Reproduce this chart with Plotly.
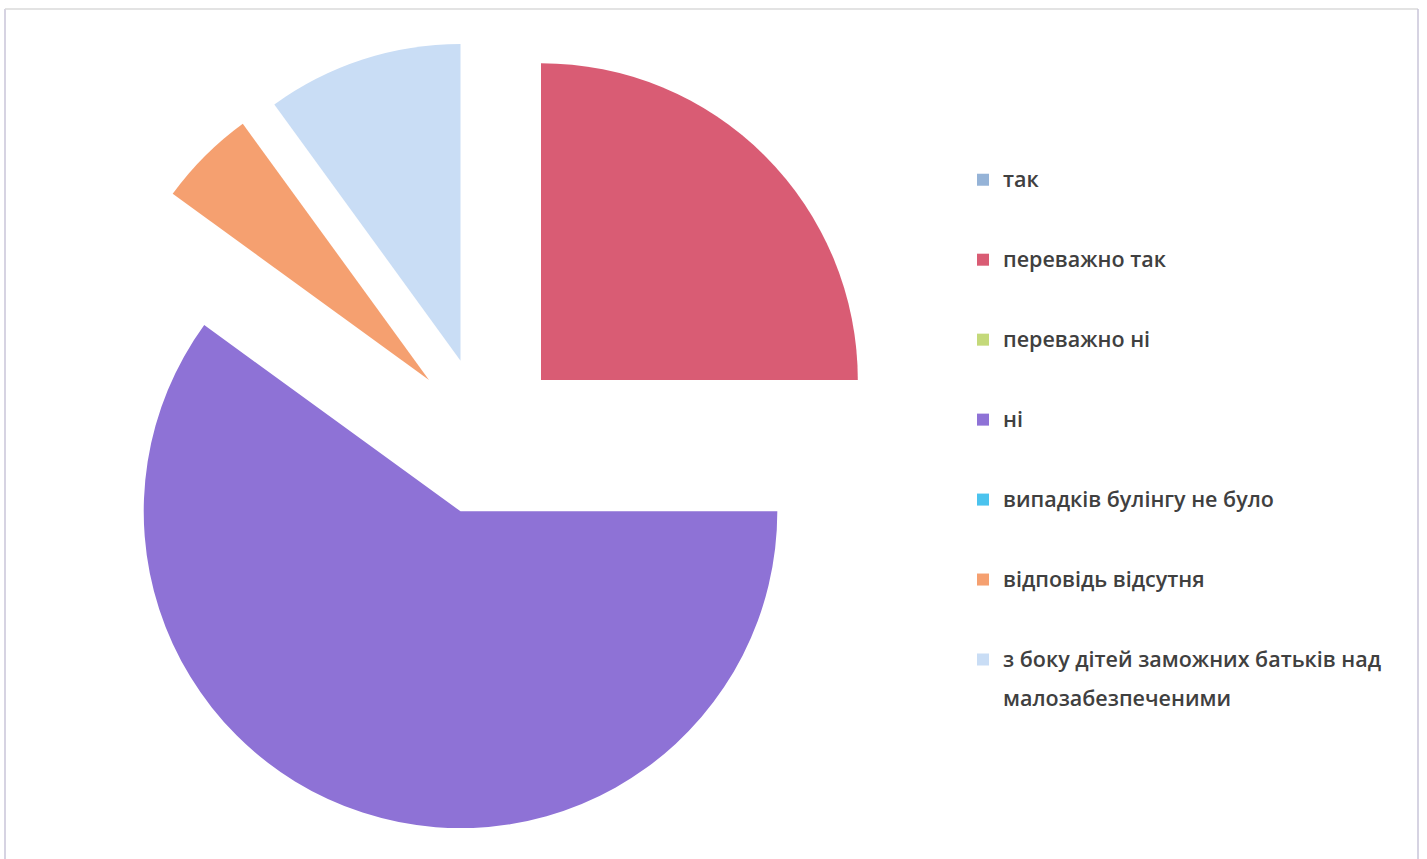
import plotly.graph_objects as go

categories = [
    "так",
    "переважно так",
    "переважно ні",
    "ні",
    "випадків булінгу не було",
    "відповідь відсутня",
    "з боку дітей заможних батьків над<br>малозабезпеченими",
]
values = [0, 25, 0, 60, 0, 5, 10]
colors = ["#95B3D7", "#D95C74", "#C4D97A", "#8E72D6", "#4BC3EE", "#F5A070", "#C9DDF5"]

SPAN = "<span style='font-size:21.5px;baseline-shift:4px'>{}</span>"
legend_labels = []
for c in categories:
    parts = [SPAN.format(p) for p in c.split("<br>")]
    if len(parts) > 1:
        legend_labels.append("<br>".join(parts))
    else:
        legend_labels.append(parts[0] + "<br> ")

W, H = 1427, 859
fig = go.Figure(
    go.Pie(
        labels=legend_labels,
        values=values,
        sort=False,
        direction="clockwise",
        rotation=0,
        pull=[0.25] * len(values),
        marker=dict(colors=colors, line=dict(width=0)),
        textinfo="none",
        hoverinfo="label+percent",
        domain=dict(x=[89 / W, 881 / W], y=[(H - 832) / H, (H - 40) / H]),
    )
)

fig.update_layout(
    width=W,
    height=H,
    margin=dict(l=0, r=0, t=0, b=0),
    paper_bgcolor="white",
    plot_bgcolor="white",
    showlegend=True,
    legend=dict(
        x=963 / W,
        xanchor="left",
        y=1 - 154 / H,
        yanchor="top",
        valign="top",
        font=dict(family="Open Sans", size=29.6, color="#404040", weight=600),
        bgcolor="rgba(0,0,0,0)",
        traceorder="normal",
    ),
    shapes=[
        dict(type="line", xref="paper", yref="paper", x0=5 / W, x1=5 / W, y0=0, y1=(H - 9) / H,
             line=dict(color="#C8C4D8", width=1.5)),
        dict(type="line", xref="paper", yref="paper", x0=5 / W, x1=1418 / W, y0=(H - 9) / H, y1=(H - 9) / H,
             line=dict(color="#DADADA", width=1.5)),
        dict(type="line", xref="paper", yref="paper", x0=1418 / W, x1=1418 / W, y0=0, y1=(H - 9) / H,
             line=dict(color="#C8C4D8", width=1.5)),
    ],
)

fig.write_html(
    "out.html",
    config={"displayModeBar": False},
    post_script="document.body.style.margin='0';",
)
